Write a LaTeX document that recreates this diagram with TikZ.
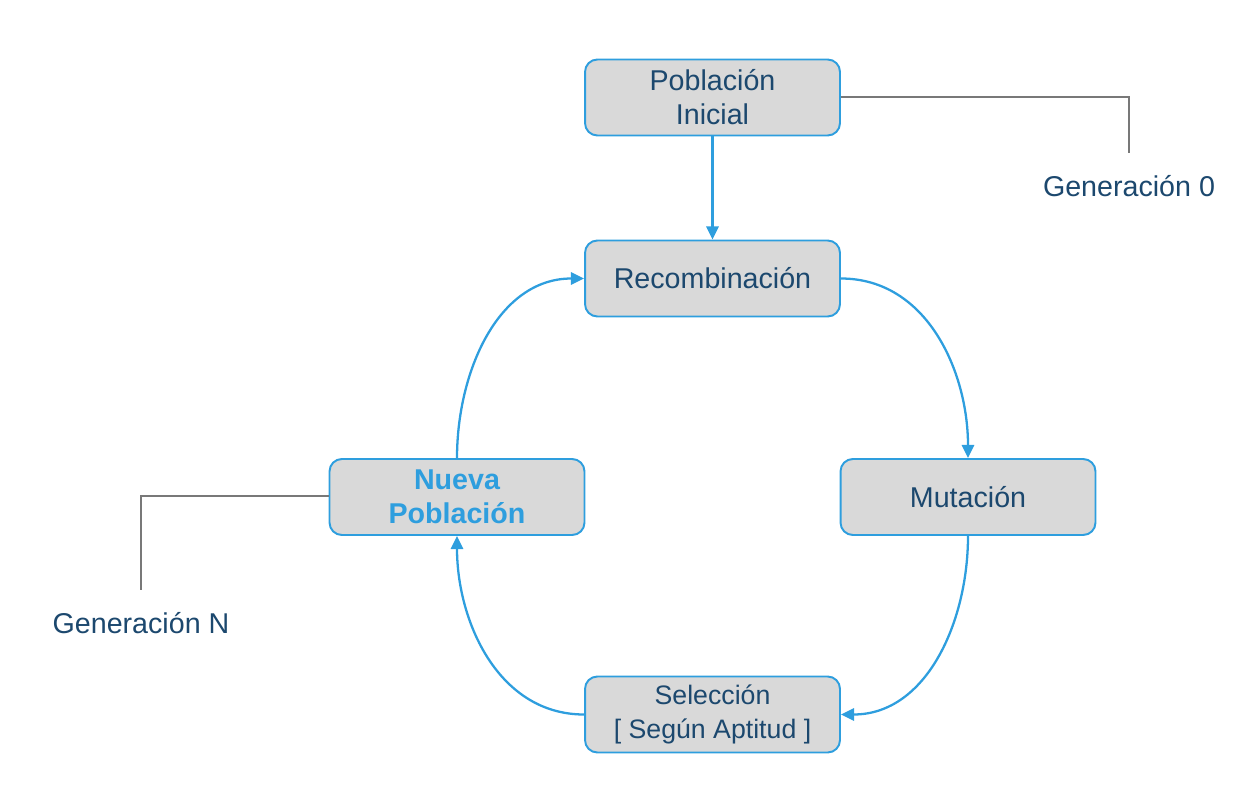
\documentclass[tikz,border=0pt]{standalone}
\usepackage{fontspec}
\setmainfont{Liberation Sans}
\usetikzlibrary{arrows.meta}
\definecolor{lineblue}{RGB}{46,158,222}
\definecolor{boxgray}{RGB}{217,217,217}
\definecolor{textblue}{RGB}{28,72,110}
\definecolor{conngray}{RGB}{120,120,120}
\tikzset{
  stepbox/.style={draw=lineblue, line width=1.1pt, fill=boxgray, rounded corners=7pt,
    minimum width=5.1cm, minimum height=1.52cm, inner sep=0pt, align=center,
    text=textblue, font=\fontsize{16.3}{19.4}\selectfont},
  flow/.style={draw=lineblue, line width=1.3pt, -{Triangle[length=7.5pt,width=7pt]}},
  bracket/.style={draw=conngray, line width=1pt},
  genlabel/.style={text=textblue, font=\fontsize{16.3}{19.4}\selectfont, inner sep=0pt}
}
\begin{document}
\begin{tikzpicture}[x=0.02cm, y=-0.02cm]
\useasboundingbox (0,0) rectangle (1240,790);
\node[stepbox] (pob) at (712.5,97.5) {Población\\Inicial};
\node[stepbox] (rec) at (712.5,278.5) {Recombinación};
\node[stepbox] (mut) at (968,497) {Mutación};
\node[stepbox, text=lineblue, font=\fontsize{16.3}{19.4}\selectfont\bfseries] (nue) at (457,497) {Nueva\\Población};
\node[stepbox, font=\fontsize{15.2}{19.4}\selectfont] (sel) at (712.5,714.5) {Selección\\{}[ Según Aptitud ]};

\coordinate (g0c) at (1129,97);
\coordinate (g0e) at (1129,153);
\coordinate (gnc) at (141,496);
\coordinate (gne) at (141,590);
\node[genlabel] (g0) at (1129,186) {Generación 0};
\node[genlabel] (gn) at (141,623) {Generación N};

\draw[bracket] (pob.east |- g0c) -- (g0c) -- (g0e);
\draw[bracket] (nue.west |- gnc) -- (gnc) -- (gne);

\draw[flow] (pob) -- (rec);
\draw[flow] (rec.east) to[out=0, in=90, looseness=1] (mut.north);
\draw[flow] (mut.south) to[out=-90, in=0, looseness=1] (sel.east);
\draw[flow] (sel.west) to[out=180, in=-90, looseness=1] (nue.south);
\draw[flow] (nue.north) to[out=90, in=180, looseness=1] (rec.west);
\end{tikzpicture}
\end{document}
